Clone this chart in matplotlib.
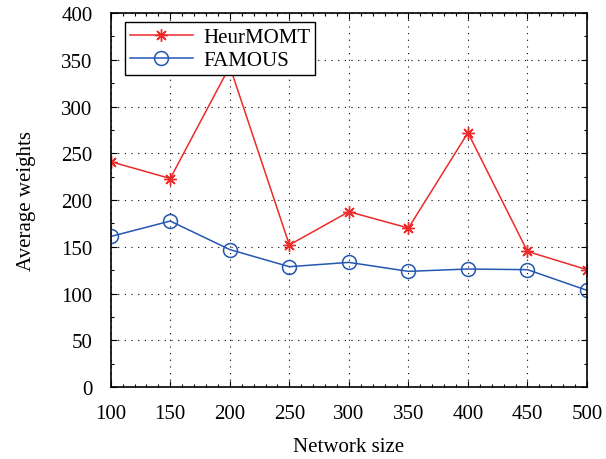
import matplotlib
matplotlib.use("Agg")
import matplotlib.pyplot as plt
from matplotlib.ticker import MultipleLocator

# data
network_size = [100, 150, 200, 250, 300, 350, 400, 450, 500]
heur_momt = [241, 223, 343, 152, 187.5, 170, 272, 145, 125.5]
famous = [161, 177.5, 147, 128.7, 133.3, 123.7, 126.2, 125.5, 103.4]

RED = "#ee2a2a"
BLUE = "#2457b0"

plt.rcParams.update({
    "font.family": "Liberation Serif",
    "font.size": 15,
})

fig = plt.figure(figsize=(6.06, 4.6), dpi=100)
ax = fig.add_axes([0.1827, 0.1565, 0.786, 0.813])

ax.plot(network_size, heur_momt, color=RED, linewidth=1.1, marker=(8, 2, 0),
        markersize=9, markeredgewidth=1.0, label="HeurMOMT")
ax.plot(network_size, famous, color=BLUE, linewidth=1.1, marker="o",
        markersize=10, markerfacecolor="none", markeredgewidth=1.1, label="FAMOUS")

ax.set_xlim(100, 500)
ax.set_ylim(0, 400)
ax.xaxis.set_major_locator(MultipleLocator(50))
ax.xaxis.set_minor_locator(MultipleLocator(10))
ax.yaxis.set_major_locator(MultipleLocator(50))
ax.yaxis.set_minor_locator(MultipleLocator(25))
ax.tick_params(which="both", direction="in", top=True, right=True, width=0.8)
ax.tick_params(which="major", length=4, labelsize=15)
ax.tick_params(axis="x", which="major", pad=12)
ax.tick_params(axis="y", which="major", pad=13)
ax.tick_params(which="minor", length=2)

ax.grid(True, which="major", linestyle=(0, (1, 5)), color="black", linewidth=0.8)
for s in ax.spines.values():
    s.set_linewidth(1.2)

ax.set_xlabel("Network size", fontsize=15, labelpad=10)
ax.set_ylabel("Average weights", fontsize=15, labelpad=18)

leg = ax.legend(loc="upper left", bbox_to_anchor=(0.03, 0.975), fancybox=False,
                edgecolor="black", framealpha=1, fontsize=15, handlelength=3.0,
                borderpad=0.25, labelspacing=0.15, handletextpad=0.5,
                borderaxespad=0)
leg.get_frame().set_linewidth(1.0)

fig.savefig("out.png", dpi=100)
